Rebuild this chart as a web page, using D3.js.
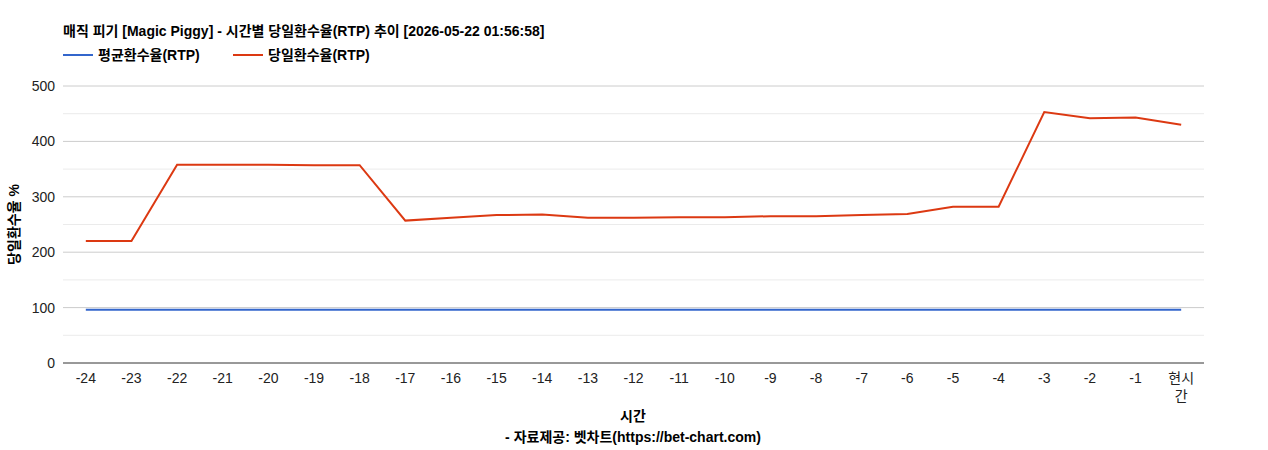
<!DOCTYPE html><html><head><meta charset="utf-8">
<script src="https://cdn.jsdelivr.net/npm/d3@7"></script>
<style>body{margin:0;background:#fff}svg{font-family:"Liberation Sans","Noto Sans CJK KR",sans-serif}</style></head><body>
<svg id="c" width="1268" height="450"></svg>
<script>
const categories=["-24","-23","-22","-21","-20","-19","-18","-17","-16","-15","-14","-13","-12","-11","-10","-9","-8","-7","-6","-5","-4","-3","-2","-1","현시간"];
const dailyRTP=[220,220,358,358,358,357,357,257,262,267,268,262,262,263,263,265,265,267,269,282,282,453,442,443,430];
const avgRTP=categories.map(()=>96);
const yTicks=[0,100,200,300,400,500];
const title="매직 피기 [Magic Piggy] - 시간별 당일환수율(RTP) 추이 [2026-05-22 01:56:58]";
const svg=d3.select("#c");
const L=63,R=1204,T=86,B=363;
const x=d3.scalePoint().domain(categories).range([L,R]).padding(0.5);
const y=d3.scaleLinear().domain([0,500]).range([B,T]);
const g=svg.append("g");
d3.range(50,500,100).forEach(v=>g.append("line").attr("x1",L).attr("x2",R).attr("y1",y(v)).attr("y2",y(v)).attr("stroke","#ebebeb"));
yTicks.forEach(v=>{g.append("line").attr("x1",L).attr("x2",R).attr("y1",y(v)).attr("y2",y(v)).attr("stroke",v==0?"#333":"#ccc");
 g.append("text").attr("x",L-8).attr("y",y(v)+5).attr("text-anchor","end").attr("font-size",14).attr("fill","#222").text(v);});
categories.forEach(c=>{const t=g.append("text").attr("x",x(c)).attr("text-anchor","middle").attr("font-size",14).attr("fill","#222");
 if(c==="현시간"){t.append("tspan").attr("x",x(c)).attr("y",B+20).text("현시");t.append("tspan").attr("x",x(c)).attr("y",B+38).text("간");}
 else t.attr("y",B+20).text(c);});
const line=d3.line().x((d,i)=>x(categories[i])).y(d=>y(d));
g.append("path").datum(avgRTP).attr("d",line).attr("fill","none").attr("stroke","#3366cc").attr("stroke-width",2);
g.append("path").datum(dailyRTP).attr("d",line).attr("fill","none").attr("stroke","#dc3912").attr("stroke-width",2);
svg.append("text").attr("x",63).attr("y",36).attr("font-size",14).attr("font-weight","bold").text(title);
[["평균환수율(RTP)","#3366cc",63],["당일환수율(RTP)","#dc3912",233]].forEach(([t,c,lx])=>{
 svg.append("line").attr("x1",lx).attr("x2",lx+30).attr("y1",55).attr("y2",55).attr("stroke",c).attr("stroke-width",2);
 svg.append("text").attr("x",lx+35).attr("y",60).attr("font-size",14).attr("font-weight","bold").text(t);});
svg.append("text").attr("transform","translate(19,"+((T+B)/2)+") rotate(-90)").attr("text-anchor","middle").attr("font-size",14).attr("font-weight","bold").text("당일환수율 %");
svg.append("text").attr("x",633).attr("y",421).attr("text-anchor","middle").attr("font-size",14).attr("font-weight","bold").text("시간");
svg.append("text").attr("x",633).attr("y",442).attr("text-anchor","middle").attr("font-size",14).attr("font-weight","bold").text("- 자료제공: 벳차트(https://bet-chart.com)");
</script></body></html>
